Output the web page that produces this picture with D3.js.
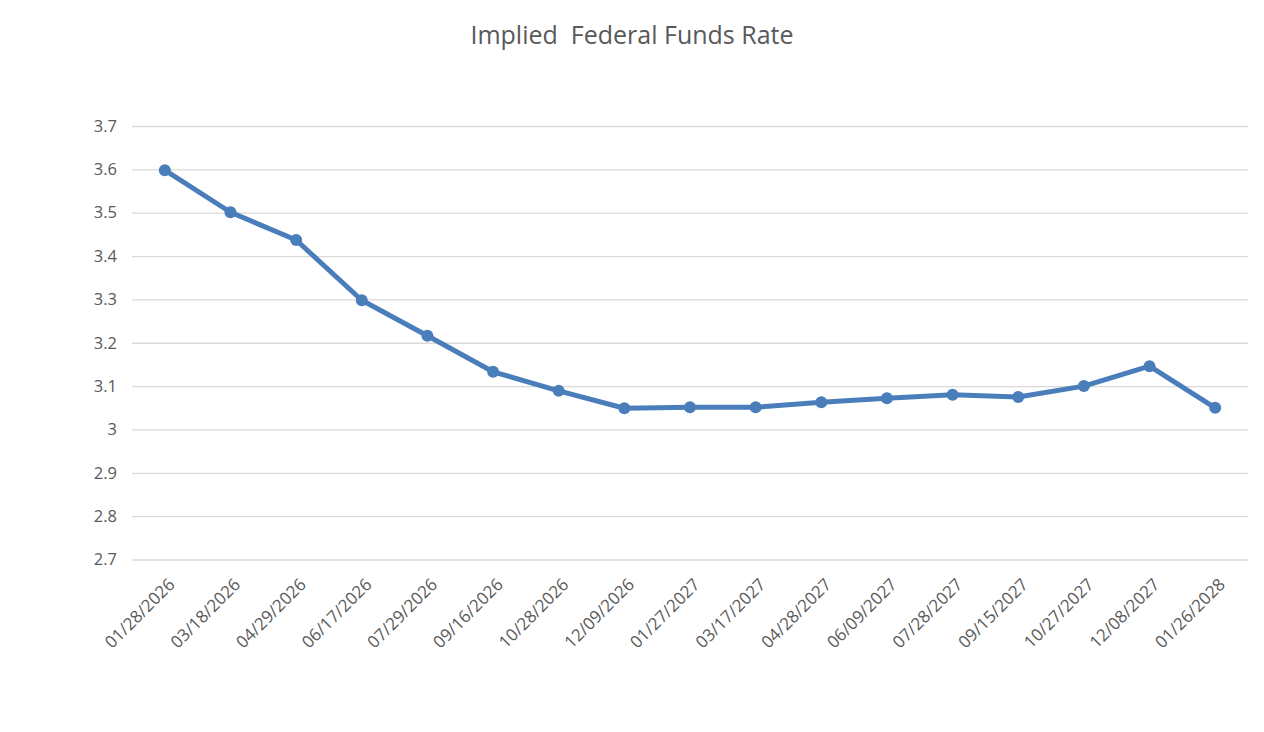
<!DOCTYPE html>
<html>
<head>
<meta charset="utf-8">
<script src="https://d3js.org/d3.v7.min.js"></script>
<style>
  body { margin: 0; background: #fff; }
  svg { font-family: "Open Sans", "Noto Sans", sans-serif; }
</style>
</head>
<body>
<svg width="1264" height="732"></svg>
<script>
// dates of the FOMC meetings
var dates = ["01/28/2026", "03/18/2026", "04/29/2026", "06/17/2026", "07/29/2026",
             "09/16/2026", "10/28/2026", "12/09/2026", "01/27/2027", "03/17/2027",
             "04/28/2027", "06/09/2027", "07/28/2027", "09/15/2027", "10/27/2027",
             "12/08/2027", "01/26/2028"];

// implied rate at each meeting
var rates = [3.598, 3.501, 3.437, 3.298, 3.216, 3.133, 3.089, 3.049, 3.051, 3.051,
             3.063, 3.072, 3.080, 3.075, 3.100, 3.146, 3.050];

var yTicks = [2.7, 2.8, 2.9, 3, 3.1, 3.2, 3.3, 3.4, 3.5, 3.6, 3.7];

var svg = d3.select("svg");
var plotLeft = 132, plotRight = 1248, plotTop = 126, plotBottom = 559.5;

var x = d3.scaleBand()
          .domain(dates)
          .range([plotLeft, plotRight]);

var y = d3.scaleLinear()
          .domain([2.7, 3.7])
          .range([plotBottom, plotTop]);

// title
svg.append("text")
   .attr("x", 632)
   .attr("y", 44)
   .attr("text-anchor", "middle")
   .attr("font-size", 25)
   .attr("fill", "#595959")
   .style("white-space", "pre")
   .text("Implied  Federal Funds Rate");

// gridlines + y labels
var yAxis = svg.append("g")
               .attr("transform", "translate(" + plotLeft + ",0)")
               .call(d3.axisLeft(y)
                       .tickValues(yTicks)
                       .tickSize(-(plotRight - plotLeft))
                       .tickPadding(15)
                       .tickFormat(function(d) { return d3.format("")(+d.toFixed(1)); }));
yAxis.select(".domain").remove();
yAxis.selectAll("line").attr("stroke", "#d9d9d9").attr("stroke-width", 1.3);
yAxis.selectAll("text")
     .attr("fill", "#595959")
     .attr("font-size", 16.5)
     .attr("font-family", "Open Sans, sans-serif");

// x labels, rotated
var xAxis = svg.append("g")
               .attr("transform", "translate(0," + plotBottom + ")")
               .call(d3.axisBottom(x).tickSize(0).tickPadding(0));
xAxis.select(".domain").remove();
xAxis.selectAll("text")
     .attr("fill", "#595959")
     .attr("font-size", 17)
     .attr("font-family", "Open Sans, sans-serif")
     .attr("text-anchor", "end")
     .attr("dy", 0)
     .attr("transform", "translate(11,26) rotate(-45)");

// the line
var line = d3.line()
             .x(function(d, i) { return x(dates[i]) + x.bandwidth() / 2; })
             .y(function(d) { return y(d); });

svg.append("path")
   .datum(rates)
   .attr("d", line)
   .attr("fill", "none")
   .attr("stroke", "#4a7ebb")
   .attr("stroke-width", 5)
   .attr("stroke-linejoin", "round");

svg.append("g")
   .selectAll("circle")
   .data(rates)
   .enter()
   .append("circle")
   .attr("cx", function(d, i) { return x(dates[i]) + x.bandwidth() / 2; })
   .attr("cy", function(d) { return y(d); })
   .attr("r", 6)
   .attr("fill", "#4a7ebb");
</script>
</body>
</html>
